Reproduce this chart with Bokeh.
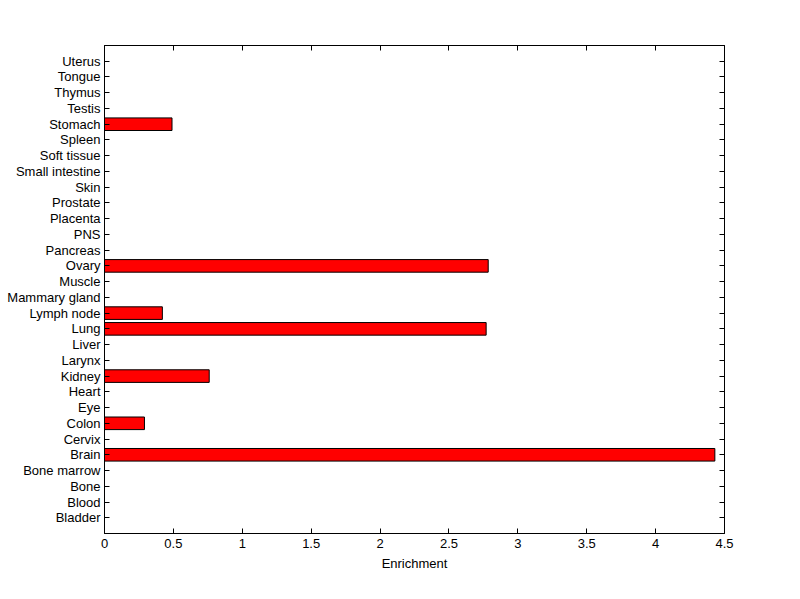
from bokeh.plotting import figure
from bokeh.models import Range1d, FixedTicker, LinearAxis, ColumnDataSource
from bokeh.embed import file_html
from bokeh.resources import INLINE

tissues = ["Bladder", "Blood", "Bone", "Bone marrow", "Brain", "Cervix", "Colon",
           "Eye", "Heart", "Kidney", "Larynx", "Liver", "Lung", "Lymph node",
           "Mammary gland", "Muscle", "Ovary", "Pancreas", "PNS", "Placenta",
           "Prostate", "Skin", "Small intestine", "Soft tissue", "Spleen",
           "Stomach", "Testis", "Thymus", "Tongue", "Uterus"]
enrichment = [0, 0, 0, 0, 4.43, 0, 0.29, 0, 0, 0.76, 0, 0, 2.77, 0.42,
              0, 0, 2.785, 0, 0, 0, 0, 0, 0, 0, 0, 0.49, 0, 0, 0, 0]
x_ticks = [0, 0.5, 1, 1.5, 2, 2.5, 3, 3.5, 4, 4.5]

n = len(tissues)
pos = list(range(1, n + 1))
FONT = "Liberation Sans"

p = figure(width=784, height=583, output_backend="svg", toolbar_location=None,
           x_range=Range1d(0, 4.5), y_range=Range1d(0, n + 1),
           min_border_left=104, min_border_right=60, min_border_top=45,
           min_border_bottom=50, y_axis_location=None)
p.grid.visible = False
p.outline_line_color = "black"
p.background_fill_color = "white"
p.border_fill_color = "white"

src = ColumnDataSource(dict(
    y=[pp for pp, v in zip(pos, enrichment) if v > 0],
    right=[v for v in enrichment if v > 0]))
p.hbar(y="y", left=0, right="right", height=0.8, source=src,
       fill_color="#ff0000", line_color="black", line_width=1)

def style(ax, labels=True):
    ax.major_tick_in = 5
    ax.major_tick_out = 0
    ax.minor_tick_line_color = None
    ax.axis_line_color = "black"
    ax.major_tick_line_color = "black"
    ax.major_label_text_font = FONT
    ax.major_label_text_font_size = "13px"
    ax.major_label_text_color = "black" if labels else None
    ax.major_label_standoff = 4

xb = p.xaxis[0]
xb.ticker = FixedTicker(ticks=x_ticks)
xb.major_label_overrides = {0: "0", 1: "1", 2: "2", 3: "3", 4: "4"}
style(xb)
xb.major_label_standoff = 5
xb.axis_label = "Enrichment"
xb.axis_label_text_font = FONT
xb.axis_label_text_font_size = "13px"
xb.axis_label_text_font_style = "normal"
xb.axis_label_text_color = "black"
xb.axis_label_standoff = 5

yl = LinearAxis(ticker=FixedTicker(ticks=pos),
                major_label_overrides={pp: t for pp, t in zip(pos, tissues)})
style(yl)
p.add_layout(yl, "left")

yr = LinearAxis(ticker=FixedTicker(ticks=pos),
                major_label_overrides={pp: "" for pp in pos})
style(yr, labels=False)
p.add_layout(yr, "right")

xt = LinearAxis(ticker=FixedTicker(ticks=x_ticks),
                major_label_overrides={t: "" for t in x_ticks})
style(xt, labels=False)
p.add_layout(xt, "above")

open("out.html", "w").write(file_html(p, INLINE))
